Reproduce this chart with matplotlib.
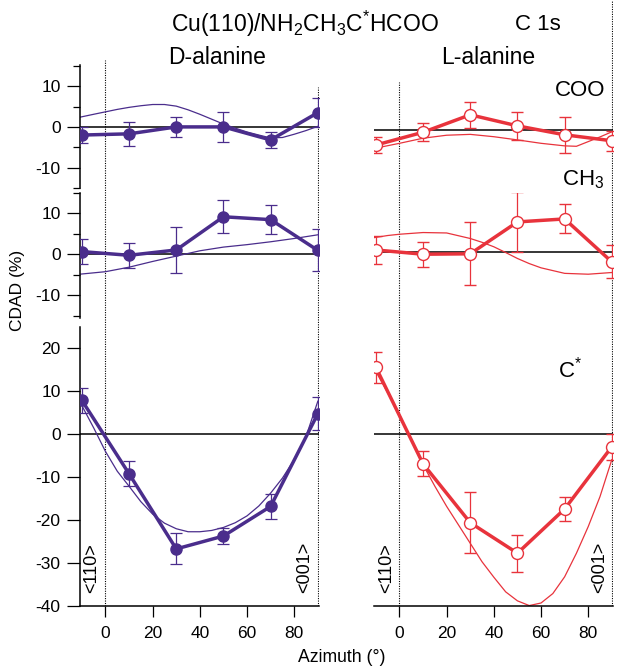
import numpy as np
import matplotlib
matplotlib.use("Agg")
import matplotlib.pyplot as plt

plt.rcParams['font.family'] = ['Liberation Sans', 'DejaVu Sans']
plt.rcParams['axes.unicode_minus'] = False

# measured azimuths (deg)
azimuth = [-10, 10, 30, 50, 70, 90]

# D-alanine CDAD (%) with error bars
d_coo = [-2.0, -1.7, 0.0, 0.0, -3.2, 3.5]
d_coo_err = [2.0, 2.9, 2.4, 3.7, 2.0, 3.5]
d_ch3 = [0.7, -0.2, 1.1, 9.2, 8.5, 1.0]
d_ch3_err = [3.0, 3.0, 5.5, 4.0, 3.6, 5.1]
d_cstar = [7.9, -9.2, -26.7, -23.7, -16.8, 4.8]
d_cstar_err = [3.0, 2.9, 3.6, 1.9, 3.0, 3.9]

# L-alanine CDAD (%) with error bars
l_coo = [-3.6, -0.6, 3.5, 0.9, -1.2, -2.6]
l_coo_err = [1.9, 2.1, 3.1, 3.3, 4.2, 2.3]
l_ch3 = [0.5, -0.5, -0.4, 7.1, 7.8, -2.3]
l_ch3_err = [3.2, 2.9, 7.4, 7.0, 3.4, 3.9]
l_cstar = [15.6, -6.9, -20.6, -27.7, -17.4, -2.9]
l_cstar_err = [3.6, 2.9, 7.1, 4.3, 2.9, 3.0]

# calculated curves (thin lines)
fit5_x = [-10.7, -5, 0, 5, 10, 15, 20, 25, 30, 35, 40, 45, 50, 55, 60, 65,
          70, 75, 80, 85, 90]
d_coo_fit = [2.4, 3.1, 3.7, 4.3, 4.8, 5.2, 5.5, 5.5, 5.1, 4.2, 3.1, 1.9, 0.7,
             -0.3, -1.25, -2.0, -2.7, -2.6, -1.8, -0.9, 0.15]
d_cstar_fit = [7.4, 1.5, -4.0, -8.6, -12.1, -15.7, -18.6, -20.7, -22.0, -22.7,
               -22.7, -22.4, -21.7, -20.6, -19.0, -16.7, -13.7, -10.2, -5.9,
               -0.5, 7.7]
l_cstar_fit = [15.3, 9.7, 4.6, -1.2, -7.1, -12.1, -16.8, -21.1, -25.4, -29.7,
               -33.3, -36.7, -38.8, -39.9, -39.3, -37.1, -33.2, -27.7, -21.5,
               -14.5, -5.9]
d_ch3_fit_x = [-10.7, 0, 10, 20, 30, 40, 50, 60, 70, 80, 90]
d_ch3_fit = [-4.8, -4.2, -3.1, -1.7, -0.4, 0.9, 1.8, 2.4, 3.1, 3.9, 4.8]
l_coo_fit_x = [-10.7, 0, 10, 20, 30, 40, 50, 60, 70, 75, 80, 85, 90]
l_coo_fit = [-4.4, -3.2, -2.0, -1.3, -1.1, -1.65, -2.4, -3.2, -3.8, -3.9,
             -2.8, -1.7, -0.5]
l_ch3_fit_x = [-10.7, -5, 0, 10, 20, 30, 35, 40, 45, 50, 55, 60, 70, 80, 90]
l_ch3_fit = [3.4, 3.9, 4.2, 4.6, 4.5, 3.2, 2.3, 1.25, -0.1, -1.5, -2.7, -3.7,
             -5.0, -5.2, -4.8]

purple = '#4a2d8c'
red = '#e8333c'

W, H = 619, 669
fig = plt.figure(figsize=(W / 100, H / 100), dpi=100)


def box(x0, y0, x1, y1):
    return fig.add_axes([x0 / W, 1 - y1 / H, (x1 - x0) / W, (y1 - y0) / H])


xlim = (-10.8, 90.5)
cols = [(80, 319), (374, 613)]
rows = [(65, 188, (-13.7, 15.2)), (193, 318, (-15.5, 13.9)),
        (327, 606, (-40, 25))]

# dotted <110> / <001> guides, drawn first so they sit underneath
guide_tops = [(60, 87), (82, 0)]
for (x0, x1), tops in zip(cols, guide_tops):
    g = box(x0, 0, x1, 606)
    g.set_xlim(xlim)
    g.axis('off')
    for xv, top in zip([0, 90], tops):
        g.axvline(xv, ymin=0, ymax=1 - top / 606, color='black', lw=0.8,
                  ls=(0, (1, 1.2)))

panels = [
    [(d_coo, d_coo_err, fit5_x, d_coo_fit),
     (l_coo, l_coo_err, l_coo_fit_x, l_coo_fit)],
    [(d_ch3, d_ch3_err, d_ch3_fit_x, d_ch3_fit),
     (l_ch3, l_ch3_err, l_ch3_fit_x, l_ch3_fit)],
    [(d_cstar, d_cstar_err, fit5_x, d_cstar_fit),
     (l_cstar, l_cstar_err, fit5_x, l_cstar_fit)],
]

for r, (y0, y1, ylim) in enumerate(rows):
    for c, (x0, x1) in enumerate(cols):
        ax = box(x0, y0, x1, y1)
        ax.set_facecolor('none')
        ax.set_xlim(xlim)
        ax.set_ylim(ylim)
        vals, errs, fx, fy = panels[r][c]
        col = purple if c == 0 else red
        ax.axhline(0, color='black', lw=1.1, zorder=1)
        ax.plot(fx, fy, color=col, lw=0.9, zorder=2)
        if c == 0:
            ax.errorbar(azimuth, vals, yerr=errs, color=col, lw=2.5,
                        marker='o', ms=8.0, elinewidth=0.9, capsize=4.2,
                        capthick=0.9, zorder=3)
        else:
            ax.errorbar(azimuth, vals, yerr=errs, color=col, lw=2.5,
                        marker='o', ms=8.6, mfc='white', mec=col, mew=1.0,
                        elinewidth=0.9, capsize=4.2, capthick=0.9, zorder=3)
        for s in ['top', 'right']:
            ax.spines[s].set_visible(False)
        if c == 1:
            ax.spines['left'].set_visible(False)
            ax.set_yticks([])
        else:
            ax.spines['left'].set_linewidth(1.1)
            if r < 2:
                ax.set_yticks([-10, 0, 10])
                ax.set_yticks([-15, -5, 5, 15], minor=True)
            else:
                ax.set_yticks(np.arange(-40, 21, 10))
            ax.tick_params(axis='y', which='major', direction='out',
                           length=9.5, width=0.9, pad=4.5, labelsize=12.5)
            ax.tick_params(axis='y', which='minor', direction='out',
                           length=5.2, width=0.9)
        if r < 2:
            ax.spines['bottom'].set_visible(False)
            ax.set_xticks([])
        else:
            ax.spines['bottom'].set_linewidth(1.1)
            ax.set_xticks(np.arange(0, 81, 20))
            ax.tick_params(axis='x', direction='out', length=7.7, width=0.9,
                           pad=7.0, labelsize=12.5)


def ftext(x, y, s, **kw):
    fig.text(x / W, 1 - y / H, s, ha='center', va='center', **kw)


ftext(305, 24, r'Cu(110)/NH$_\mathregular{2}$CH$_\mathregular{3}$C$^\mathregular{*}$HCOO',
      fontsize=16.5)
ftext(538, 24, 'C 1s', fontsize=16)
ftext(217, 58, 'D-alanine', fontsize=16.5)
ftext(488, 58, 'L-alanine', fontsize=16.5)
ftext(580, 90, 'COO', fontsize=16)
ftext(583, 180, r'CH$_\mathregular{3}$', fontsize=16)
ftext(570, 370, r'C$^\mathregular{*}$', fontsize=16)
ftext(18, 290, 'CDAD (%)', fontsize=12.5, rotation=90)
ftext(342, 657, 'Azimuth (°)', fontsize=12.7)
for xp in [92, 387]:
    ftext(xp, 568, '<110>', fontsize=13, rotation=90)
for xp in [305, 600]:
    ftext(xp, 567, '<001>', fontsize=13, rotation=90)

fig.savefig('out.png', dpi=100)
